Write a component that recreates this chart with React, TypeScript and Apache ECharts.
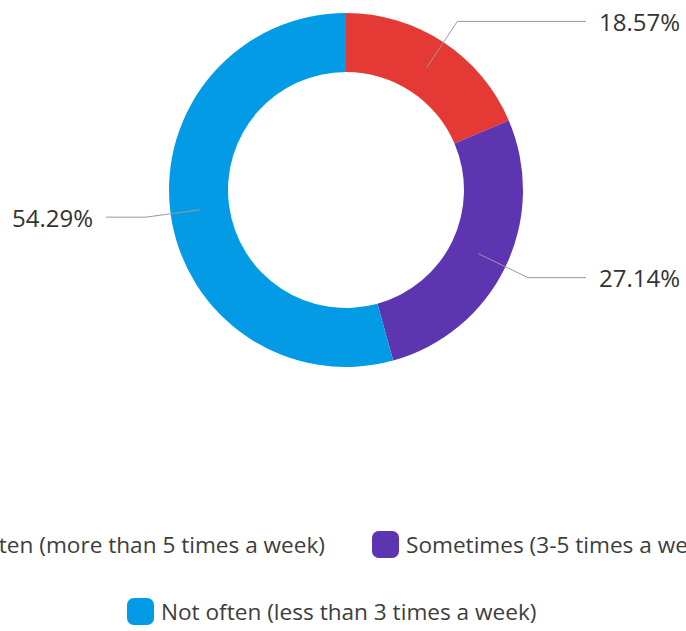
import React, { useEffect, useRef } from "react";
import * as echarts from "echarts";

const categories = [
  "Often (more than 5 times a week)",
  "Sometimes (3-5 times a week)",
  "Not often (less than 3 times a week)",
];
const percentValues = [18.57, 27.14, 54.29];
const sliceColors = ["#E53935", "#5E35B1", "#039BE5"];

const FONT = "'Open Sans', 'Liberation Sans', sans-serif";

export default function App() {
  const ref = useRef<HTMLDivElement>(null);
  useEffect(() => {
    if (!ref.current) return;
    const chart = echarts.init(ref.current, undefined, { renderer: "svg" });
    const mainData = categories.map((name, i) => ({
      name,
      value: percentValues[i],
      itemStyle: { color: sliceColors[i] },
    }));
    const labelData = categories.map((name, i) => ({
      name: name + " ",
      value: percentValues[i],
    }));
    const legendCommon = {
      orient: "horizontal" as const,
      icon: "roundRect",
      itemWidth: 27,
      itemHeight: 27,
      itemGap: 47,
      padding: 0,
      selectedMode: false,
      textStyle: { fontFamily: FONT, fontSize: 22.6, color: "#3d3d3d", padding: [0, 0, 0, 2] },
    };
    chart.setOption({
      animation: false,
      textStyle: { fontFamily: FONT },
      legend: [
        { ...legendCommon, data: [categories[0]], right: 361, top: 531 },
        { ...legendCommon, data: [categories[1]], left: 372, top: 531 },
        { ...legendCommon, data: [categories[2]], left: 127, top: 598 },
      ],
      series: [
        {
          type: "pie",
          left: 0,
          top: 0,
          width: 692,
          height: 380,
          center: [346, 190],
          radius: [118, 177],
          startAngle: 90,
          clockwise: true,
          silent: true,
          label: { show: false },
          labelLine: { show: false },
          data: mainData,
          z: 1,
        },
        {
          type: "pie",
          left: 0,
          top: 0,
          width: 692,
          height: 380,
          center: [346, 190],
          radius: [0, 147],
          startAngle: 90,
          clockwise: true,
          silent: true,
          avoidLabelOverlap: true,
          itemStyle: { color: "rgba(0,0,0,0)" },
          emphasis: { disabled: true },
          label: {
            show: true,
            position: "outside",
            alignTo: "edge",
            edgeDistance: 12,
            distanceToLabelLine: 13,
            formatter: "{d}%",
            fontFamily: FONT,
            fontSize: 24,
            color: "#333333",
          },
          labelLine: {
            show: true,
            length: 55,
            length2: 10,
            lineStyle: { color: "#9a9a9a", width: 1 },
          },
          data: labelData,
          z: 2,
        },
      ],
    });
    return () => chart.dispose();
  }, []);
  return (
    <div
      ref={ref}
      style={{ position: "fixed", left: 0, top: 0, width: 686, height: 631, background: "#fff" }}
    />
  );
}
